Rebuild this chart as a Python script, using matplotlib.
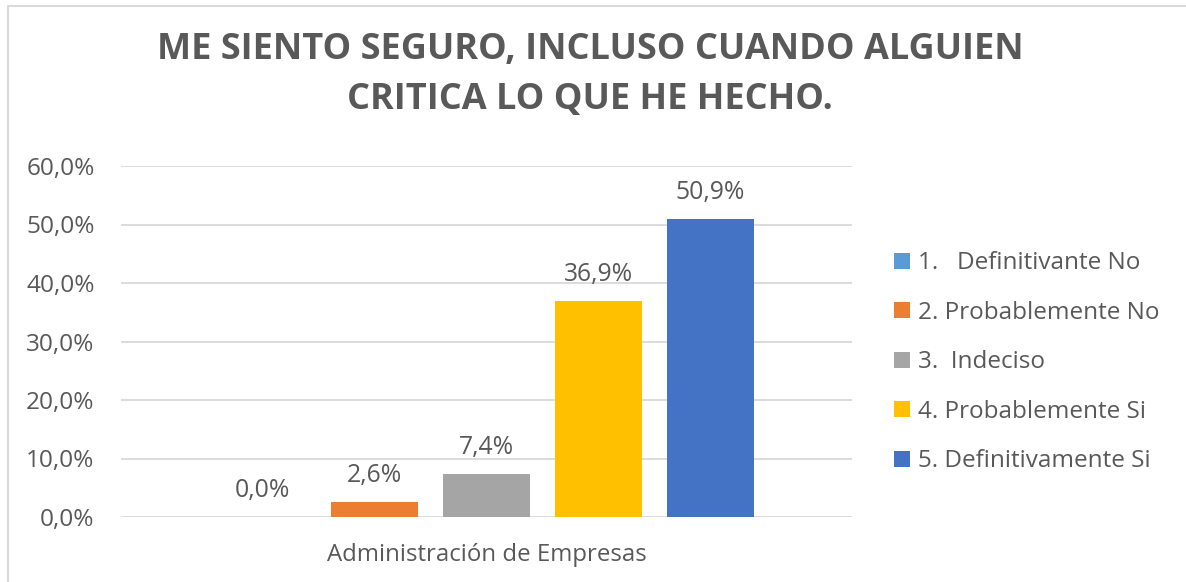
import matplotlib
matplotlib.use("Agg")
import matplotlib.pyplot as plt
from matplotlib.patches import Patch
from matplotlib.lines import Line2D

title = "ME SIENTO SEGURO, INCLUSO CUANDO ALGUIEN\nCRITICA LO QUE HE HECHO."
category = "Administración de Empresas"
series = ["1.   Definitivante No", "2. Probablemente No", "3.  Indeciso",
          "4. Probablemente Si", "5. Definitivamente Si"]
values = [0.0, 2.6, 7.4, 36.9, 50.9]
colors = ["#5B9BD5", "#ED7D31", "#A5A5A5", "#FFC000", "#4472C4"]
yticks = [0, 10, 20, 30, 40, 50, 60]

TXT = "#595959"
plt.rcParams['font.family'] = ['Open Sans', 'DejaVu Sans']

W, H = 1186, 582
fig = plt.figure(figsize=(W / 100, H / 100), dpi=100)
ax = fig.add_axes([121 / W, 1 - 517 / H, (852 - 121) / W, (517 - 166) / H])

n = len(values)
positions = [i - (n - 1) / 2 for i in range(n)]
bars = ax.bar(positions, values, width=0.777, color=colors, zorder=3)
for p, v in zip(positions, values):
    ax.text(p, v + 2.4, f"{v:.1f}%".replace('.', ','), ha='center', va='bottom',
            fontsize=17.8, color=TXT)

half = 731 / 112 / 2
ax.set_xlim(-half, half)
ax.set_ylim(0, 60)
ax.set_yticks(yticks)
ax.set_yticklabels([f"{t:.1f}%".replace('.', ',') for t in yticks], fontsize=17.6, color=TXT)
ax.set_xticks([0])
ax.set_xticklabels([category], fontsize=17.3, color=TXT)
ax.tick_params(axis='both', length=0)
ax.tick_params(axis='y', pad=19)
ax.tick_params(axis='x', pad=19)
ax.grid(axis='y', color='#D9D9D9', lw=1.3, zorder=0)
ax.set_axisbelow(True)
for s in ax.spines.values():
    s.set_visible(False)

fig.text(590 / W, 1 - 75 / H, title, ha='center', va='center', fontsize=26,
         fontweight='bold', color=TXT, linespacing=1.5)

handles = [Patch(facecolor=c, edgecolor='none') for c in colors]
fig.legend(handles, series, loc='upper left', bbox_to_anchor=(882 / W, 1 - 239 / H),
           frameon=False, fontsize=17.5, labelcolor=TXT, handlelength=0.65,
           handleheight=0.65, handletextpad=0.35, labelspacing=1.05, borderpad=0)

fig.add_artist(Line2D([8 / W, 8 / W, 1], [0, 1 - 6 / H, 1 - 6 / H],
                      transform=fig.transFigure, color='#D9D9D9', lw=1.5))

fig.savefig("out.png", dpi=100, facecolor='white')
